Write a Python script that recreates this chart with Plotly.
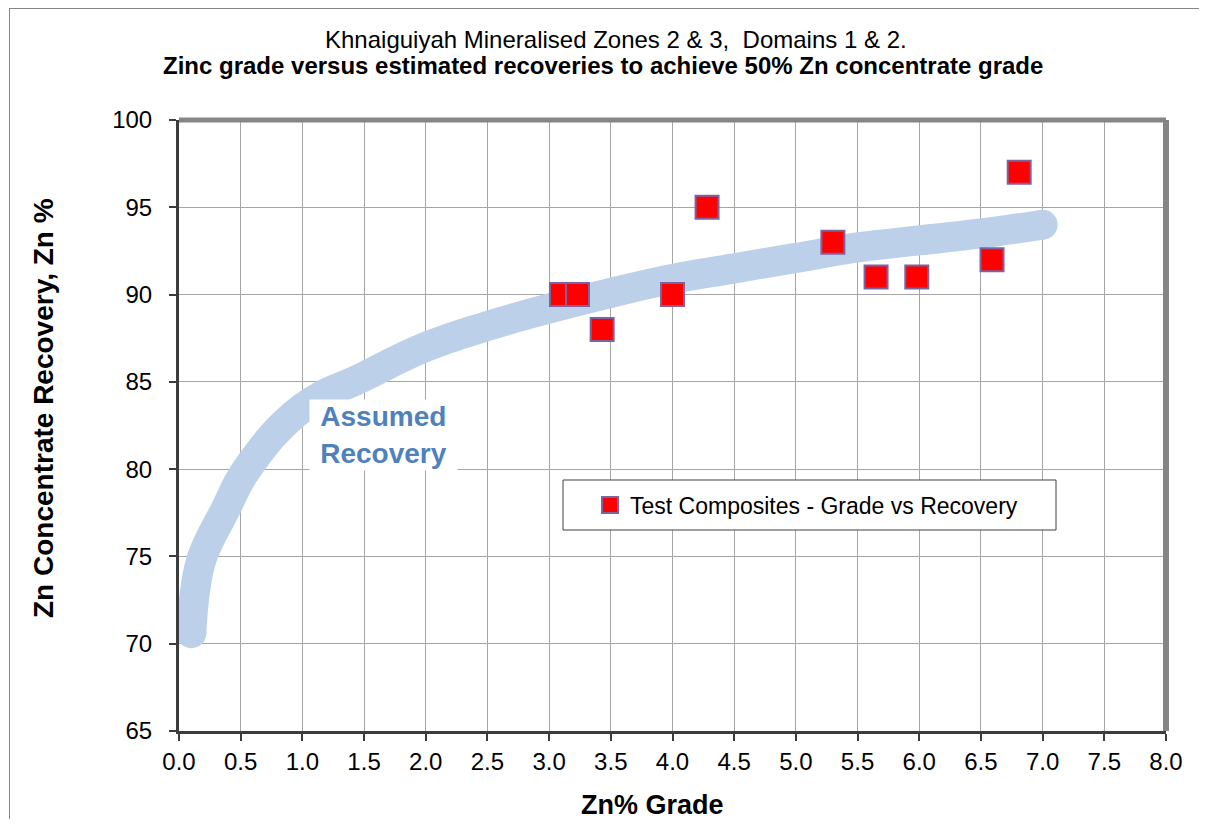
import plotly.graph_objects as go

# Test composites (Zn% grade vs recovery %)
grade = [3.10, 3.23, 3.43, 4.00, 4.28, 5.30, 5.65, 5.98, 6.59, 6.81]
recovery = [90, 90, 88, 90, 95, 93, 91, 91, 92, 97]

# Assumed recovery curve
curve_x = [0.10, 0.13, 0.19, 0.37, 0.55, 1.0, 1.5, 2.0, 2.5, 3.0, 3.5, 4.0, 4.5, 5.0, 5.5, 6.0, 6.5, 7.0]
curve_y = [70.6, 73.0, 75.0, 77.6, 80.0, 83.5, 85.3, 87.0, 88.2, 89.2, 90.1, 90.9, 91.5, 92.1, 92.7, 93.1, 93.5, 94.0]

x_ticks = [i * 0.5 for i in range(17)]
x_tick_labels = [f"{v:.1f}" for v in x_ticks]
y_ticks = [65, 70, 75, 80, 85, 90, 95, 100]

FONT = "Liberation Sans, Arial, sans-serif"
CURVE_COLOR = "#bdd0e9"

fig = go.Figure()

fig.add_trace(go.Scatter(
    x=curve_x, y=curve_y, mode="lines",
    line=dict(color=CURVE_COLOR, width=30, shape="spline", smoothing=1.2),
    showlegend=False, hoverinfo="skip"))
fig.add_trace(go.Scatter(
    x=[curve_x[0], curve_x[-1]], y=[curve_y[0], curve_y[-1]], mode="markers",
    marker=dict(color=CURVE_COLOR, size=30, symbol="circle", line=dict(width=0)),
    showlegend=False, hoverinfo="skip"))

fig.add_trace(go.Scatter(
    x=grade, y=recovery, mode="markers",
    name="Test Composites - Grade vs Recovery",
    marker=dict(symbol="square", size=23, color="#ff0000",
                line=dict(color="#7e63a1", width=2))))

# page pixel -> paper coordinate (page has an 8px body margin)
def px(x):
    return (x - 179) / 987

def py(y):
    return (731 - y) / 611

shapes = [
    # top & right plot borders
    dict(type="line", xref="paper", yref="paper", x0=0, x1=1, y0=1, y1=1,
         line=dict(color="#858585", width=5), layer="above"),
    dict(type="line", xref="paper", yref="paper", x0=1, x1=1, y0=0, y1=1,
         line=dict(color="#858585", width=6), layer="above"),
    # legend box
    dict(type="rect", xref="paper", yref="paper", x0=px(563), x1=px(1056), y0=py(530), y1=py(480),
         line=dict(color="#404040", width=1), fillcolor="white", layer="above"),
    # outer chart border (top and left edges)
    dict(type="line", xref="paper", yref="paper", x0=px(9), x1=px(1199), y0=py(8.5), y1=py(8.5),
         line=dict(color="#868686", width=1), layer="above"),
    dict(type="line", xref="paper", yref="paper", x0=px(9.5), x1=px(9.5), y0=py(819), y1=py(8),
         line=dict(color="#868686", width=1), layer="above"),
]

annotations = [
    dict(text="Khnaiguiyah Mineralised Zones 2 &amp; 3,&nbsp; Domains 1 &amp; 2.", xref="paper", yref="paper",
         x=px(616), y=py(39), xanchor="center", yanchor="middle", showarrow=False,
         font=dict(family=FONT, size=24, color="black")),
    dict(text="<b>Zinc grade versus estimated recoveries to achieve 50% Zn concentrate grade</b>",
         xref="paper", yref="paper", x=px(603), y=py(66), xanchor="center", yanchor="middle",
         showarrow=False, font=dict(family=FONT, size=24, color="black")),
    dict(text="<b>Zn% Grade</b>", xref="paper", yref="paper", x=px(652), y=py(805),
         xanchor="center", yanchor="middle", showarrow=False,
         font=dict(family=FONT, size=27, color="black")),
    dict(text="<b>Zn Concentrate Recovery, Zn %</b>", xref="paper", yref="paper", x=px(44), y=py(408),
         xanchor="center", yanchor="middle", showarrow=False, textangle=-90,
         font=dict(family=FONT, size=28, color="black")),
    dict(text="<b>Assumed<br>Recovery</b>", xref="paper", yref="paper", x=px(383.5), y=py(435),
         xanchor="center", yanchor="middle", showarrow=False, bgcolor="white",
         width=145, height=68, borderpad=1,
         font=dict(family=FONT, size=28, color="#4f81bd")),
]

fig.update_layout(
    width=1192, height=812,
    margin=dict(l=171, r=34, t=112, b=89),
    paper_bgcolor="white", plot_bgcolor="white",
    font=dict(family=FONT, color="black"),
    showlegend=True,
    legend=dict(x=px(590), y=py(505), xanchor="left", yanchor="middle",
                bgcolor="rgba(0,0,0,0)", borderwidth=0,
                font=dict(family=FONT, size=23, color="black")),
    shapes=shapes, annotations=annotations,
)

fig.update_xaxes(range=[0, 8], tickvals=x_ticks, ticktext=x_tick_labels,
                 showgrid=True, gridcolor="#a6a6a6", gridwidth=1,
                 showline=True, linecolor="#3c3c3c", linewidth=3,
                 ticks="outside", ticklen=7, tickcolor="#3c3c3c", tickwidth=1.5,
                 tickfont=dict(family=FONT, size=24, color="black"),
                 zeroline=False, fixedrange=True)
fig.update_yaxes(range=[65, 100], tickvals=y_ticks,
                 showgrid=True, gridcolor="#a6a6a6", gridwidth=1,
                 showline=True, linecolor="#3c3c3c", linewidth=3,
                 ticks="outside", ticklen=7, tickcolor="#3c3c3c", tickwidth=1.5,
                 ticklabelstandoff=12,
                 tickfont=dict(family=FONT, size=24, color="black"),
                 zeroline=False, fixedrange=True)

fig.write_html("out.html")
